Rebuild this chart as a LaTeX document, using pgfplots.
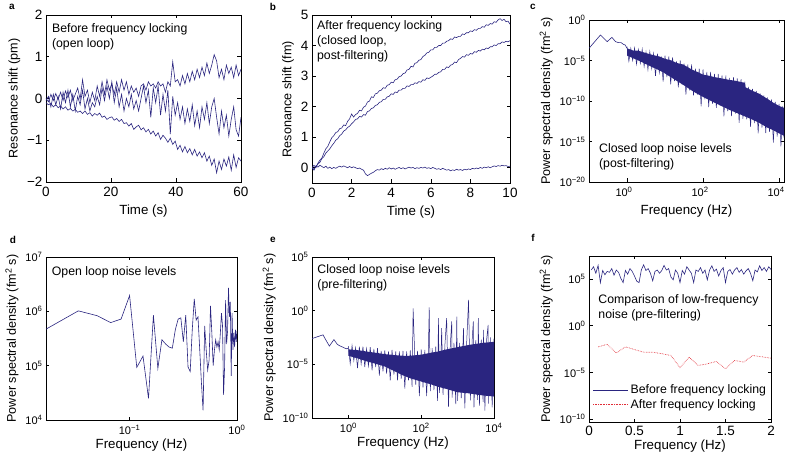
\documentclass[border=0pt]{standalone}
\usepackage{pgfplots}
\pgfplotsset{compat=1.18}
\usepackage{fontspec}
\setmainfont{Liberation Sans}
\newfontfamily\yfont{Liberation Sans}
\definecolor{nv}{RGB}{42,37,128}
\definecolor{rd}{RGB}{225,45,55}
\pgfplotsset{
 pnl/.style={scale only axis, anchor=south west, tick align=inside, major tick length=3.5pt,
  xminorticks=false, yminorticks=false,
  axis line style={line width=0.6pt},
  every tick/.style={line width=0.5pt, black},
  tick label style={font=\fontsize{13.5}{15}\selectfont},
  xticklabel style={yshift=-2pt},
  xlabel style={font=\fontsize{13.3}{14}\selectfont, yshift=-1pt},
  ylabel style={font=\yfont\fontsize{12.6}{14}\selectfont},
  every axis plot/.append style={line width=0.6pt},
 },
 bot/.style={xlabel style={yshift=4pt}},
 lgx/.style={xticklabel style={font=\fontsize{11}{12}\selectfont}},
 lgy/.style={yticklabel style={font=\fontsize{11}{12}\selectfont}},
}
\tikzset{ann/.style={anchor=north west, inner sep=0pt, align=left, font=\fontsize{12.3}{15}\selectfont},
 lett/.style={font=\bfseries\fontsize{10}{12}\selectfont}}
\begin{document}
\begin{tikzpicture}
\useasboundingbox (0,0) rectangle (785pt,455pt);
% ---------------- a ----------------
\begin{axis}[pnl, at={(46pt,273pt)}, width=195pt, height=167pt,
  xmin=0, xmax=60, ymin=-2, ymax=2,
  xtick={0,20,40,60}, xticklabels={0,20,40,60},
  ytick={-2,-1,0,1,2}, yticklabels={−2,−1,0,1,2},
  xlabel={Time (s)}, ylabel={Resonance shift (pm)}]
\addplot[nv] coordinates {(0,0.00)(0.75,-0.08)(1.5,0.10)(2.25,-0.05)(3,0.12)(3.75,-0.02)(4.5,0.15)(5.25,-0.05)(6,0.18)(6.75,0.02)(7.5,0.2)(8.25,-0.05)(9,0.1)(9.75,0.25)(10.5,-0.02)(11.25,0.45)(12,0.05)(12.75,0.2)(13.5,-0.1)(14.25,0.15)(15,-0.05)(15.75,0.3)(16.5,0.05)(17.25,0.4)(18,0.1)(18.75,0.45)(19.5,0.2)(20.25,0.35)(21,0.1)(21.75,0.4)(22.5,0.15)(23.25,0.45)(24,0.2)(24.75,0.4)(25.5,0.1)(26.25,0.3)(27,0.15)(27.75,0.25)(28.5,0.05)(29.25,0.3)(30,0.35)(30.75,0.2)(31.5,0.4)(32.25,0.3)(33,0.35)(33.75,0.25)(34.5,0.4)(35.25,0.3)(36,0.35)(36.75,0.15)(37.5,0.4)(38.25,0.3)(39,0.88)(39.75,0.4)(40.5,0.45)(41.25,0.3)(42,0.55)(42.75,0.35)(43.5,0.6)(44.25,0.4)(45,0.65)(45.75,0.45)(46.5,0.7)(47.25,0.5)(48,0.75)(48.75,0.55)(49.5,0.85)(50.25,0.6)(51,0.8)(51.75,1.05)(52.5,0.9)(53.25,0.5)(54,0.7)(54.75,0.45)(55.5,0.8)(56.25,0.6)(57,0.75)(57.75,0.5)(58.5,0.8)(59.25,0.55)(60,0.7)};
\addplot[nv] coordinates {(0,-0.05)(0.75,0.05)(1.5,-0.2)(2.25,0.1)(3,-0.15)(3.75,0.05)(4.5,-0.25)(5.25,0.15)(6,-0.1)(6.75,0.2)(7.5,-0.2)(8.25,0.1)(9,-0.3)(9.75,0.05)(10.5,-0.15)(11.25,0.2)(12,-0.25)(12.75,0.0)(13.5,-0.3)(14.25,-0.1)(15,-0.2)(15.75,0.05)(16.5,-0.15)(17.25,0.25)(18,-0.05)(18.75,0.3)(19.5,0.0)(20.25,0.4)(21,-0.1)(21.75,0.25)(22.5,-0.2)(23.25,0.1)(24,-0.3)(24.75,0.0)(25.5,-0.2)(26.25,0.1)(27,-0.25)(27.75,-0.05)(28.5,-0.3)(29.25,0.0)(30,0.3)(30.75,-0.1)(31.5,0.2)(32.25,-0.45)(33,0.25)(33.75,-0.1)(34.5,0.3)(35.25,-0.4)(36,0.1)(36.75,-0.3)(37.5,0.2)(38.25,-0.85)(39,0.05)(39.75,-0.4)(40.5,-0.1)(41.25,-0.5)(42,-0.2)(42.75,-0.6)(43.5,-0.25)(44.25,-0.55)(45,-0.15)(45.75,-0.65)(46.5,-0.3)(47.25,-0.7)(48,-0.2)(48.75,-0.5)(49.5,-0.1)(50.25,-0.6)(51,-0.2)(51.75,0.0)(52.5,-0.45)(53.25,-0.85)(54,-0.3)(54.75,-0.7)(55.5,-0.4)(56.25,-0.9)(57,-0.5)(57.75,-0.2)(58.5,-0.75)(59.25,-0.9)(60,-0.45)};
\addplot[nv] coordinates {(0,-0.10)(0.75,-0.15)(1.5,-0.12)(2.25,-0.2)(3,-0.15)(3.75,-0.22)(4.5,-0.18)(5.25,-0.25)(6,-0.2)(6.75,-0.28)(7.5,-0.24)(8.25,-0.3)(9,-0.26)(9.75,-0.33)(10.5,-0.3)(11.25,-0.36)(12,-0.3)(12.75,-0.38)(13.5,-0.34)(14.25,-0.42)(15,-0.36)(15.75,-0.4)(16.5,-0.35)(17.25,-0.45)(18,-0.42)(18.75,-0.5)(19.5,-0.46)(20.25,-0.44)(21,-0.52)(21.75,-0.48)(22.5,-0.55)(23.25,-0.5)(24,-0.6)(24.75,-0.58)(25.5,-0.66)(26.25,-0.6)(27,-0.74)(27.75,-0.68)(28.5,-0.64)(29.25,-0.75)(30,-0.7)(30.75,-0.8)(31.5,-0.74)(32.25,-0.85)(33,-0.78)(33.75,-0.9)(34.5,-0.82)(35.25,-0.98)(36,-0.88)(36.75,-0.95)(37.5,-1.05)(38.25,-0.95)(39,-1.1)(39.75,-1.02)(40.5,-1.22)(41.25,-1.12)(42,-1.28)(42.75,-1.15)(43.5,-1.3)(44.25,-1.2)(45,-1.35)(45.75,-1.22)(46.5,-1.38)(47.25,-1.28)(48,-1.42)(48.75,-1.3)(49.5,-1.5)(50.25,-1.38)(51,-1.6)(51.75,-1.45)(52.5,-1.78)(53.25,-1.5)(54,-1.7)(54.75,-1.45)(55.5,-1.62)(56.25,-1.4)(57,-1.72)(57.75,-1.35)(58.5,-1.65)(59.25,-1.42)(60,-1.5)};
\node[ann] at (rel axis cs:0.03,0.95) {Before frequency locking\\(open loop)};
\end{axis}
% ---------------- b ----------------
\begin{axis}[pnl, at={(312pt,272pt)}, width=198pt, height=168pt,
  xmin=0, xmax=10, ymin=-0.5, ymax=5,
  xtick={0,2,4,6,8,10}, xticklabels={0,2,4,6,8,10},
  ytick={0,1,2,3,4,5}, yticklabels={0,1,2,3,4,5},
  xlabel={Time (s)}, ylabel={Resonance shift (fm)}]
\addplot[nv] coordinates {(0,0.00)(0.1,0.08)(0.2,0.00)(0.3,0.15)(0.4,0.25)(0.5,0.32)(0.6,0.48)(0.7,0.62)(0.8,0.70)(0.9,0.85)(1.0,0.98)(1.1,1.05)(1.2,1.15)(1.3,1.18)(1.4,1.28)(1.5,1.30)(1.6,1.40)(1.7,1.38)(1.8,1.52)(1.9,1.60)(2.0,1.76)(2.1,1.66)(2.2,1.74)(2.3,1.78)(2.4,1.88)(2.5,1.86)(2.6,1.98)(2.7,2.02)(2.8,2.15)(2.9,2.18)(3.0,2.32)(3.1,2.30)(3.2,2.42)(3.3,2.44)(3.4,2.52)(3.5,2.54)(3.6,2.62)(3.7,2.60)(3.8,2.70)(3.9,2.72)(4.0,2.80)(4.1,2.78)(4.2,2.88)(4.3,2.90)(4.4,2.98)(4.5,3.00)(4.6,3.08)(4.7,3.10)(4.8,3.20)(4.9,3.22)(5.0,3.32)(5.1,3.30)(5.2,3.42)(5.3,3.44)(5.4,3.52)(5.5,3.54)(5.6,3.64)(5.7,3.68)(5.8,3.76)(5.9,3.78)(6.0,3.86)(6.1,3.86)(6.2,3.94)(6.3,3.94)(6.4,4.00)(6.5,4.00)(6.6,4.08)(6.7,4.08)(6.8,4.14)(6.9,4.16)(7.0,4.22)(7.1,4.20)(7.2,4.28)(7.3,4.26)(7.4,4.30)(7.5,4.30)(7.6,4.38)(7.7,4.36)(7.8,4.42)(7.9,4.42)(8.0,4.48)(8.1,4.46)(8.2,4.52)(8.3,4.50)(8.4,4.56)(8.5,4.56)(8.6,4.62)(8.7,4.60)(8.8,4.68)(8.9,4.66)(9.0,4.72)(9.1,4.70)(9.2,4.78)(9.3,4.76)(9.4,4.84)(9.5,4.88)(9.6,4.82)(9.7,4.86)(9.8,4.78)(9.9,4.80)(10.0,4.70)};
\addplot[nv] coordinates {(0,0.00)(0.1,-0.05)(0.2,0.05)(0.3,0.12)(0.4,0.18)(0.5,0.30)(0.6,0.36)(0.7,0.48)(0.8,0.55)(0.9,0.62)(1.0,0.72)(1.1,0.80)(1.2,0.90)(1.3,0.95)(1.4,1.05)(1.5,1.10)(1.6,1.20)(1.7,1.24)(1.8,1.32)(1.9,1.36)(2.0,1.44)(2.1,1.50)(2.2,1.58)(2.3,1.60)(2.4,1.68)(2.5,1.66)(2.6,1.74)(2.7,1.72)(2.8,1.84)(2.9,1.86)(3.0,1.94)(3.1,1.96)(3.2,2.04)(3.3,2.06)(3.4,2.14)(3.5,2.16)(3.6,2.24)(3.7,2.24)(3.8,2.32)(3.9,2.34)(4.0,2.42)(4.1,2.40)(4.2,2.48)(4.3,2.46)(4.4,2.54)(4.5,2.54)(4.6,2.60)(4.7,2.60)(4.8,2.68)(4.9,2.66)(5.0,2.72)(5.1,2.72)(5.2,2.78)(5.3,2.76)(5.4,2.82)(5.5,2.80)(5.6,2.88)(5.7,2.86)(5.8,2.94)(5.9,2.92)(6.0,2.96)(6.1,3.00)(6.2,3.06)(6.3,3.06)(6.4,3.12)(6.5,3.14)(6.6,3.22)(6.7,3.22)(6.8,3.30)(6.9,3.28)(7.0,3.36)(7.1,3.38)(7.2,3.46)(7.3,3.44)(7.4,3.54)(7.5,3.58)(7.6,3.64)(7.7,3.62)(7.8,3.70)(7.9,3.68)(8.0,3.74)(8.1,3.72)(8.2,3.80)(8.3,3.78)(8.4,3.84)(8.5,3.82)(8.6,3.88)(8.7,3.86)(8.8,3.92)(8.9,3.90)(9.0,3.96)(9.1,3.96)(9.2,4.02)(9.3,4.00)(9.4,4.06)(9.5,4.06)(9.6,4.12)(9.7,4.10)(9.8,4.14)(9.9,4.12)(10.0,4.16)};
\addplot[nv] coordinates {(0,0.00)(0.1,-0.08)(0.2,0.06)(0.3,0.02)(0.4,0.08)(0.5,0.04)(0.6,0.00)(0.7,0.05)(0.8,-0.02)(0.9,0.02)(1.0,-0.03)(1.1,0.01)(1.2,-0.02)(1.3,0.02)(1.4,0.05)(1.5,0.02)(1.6,0.06)(1.7,0.03)(1.8,0.00)(1.9,0.04)(2.0,0.00)(2.1,0.03)(2.2,0.00)(2.3,-0.03)(2.4,-0.01)(2.5,-0.05)(2.6,-0.08)(2.7,-0.20)(2.8,-0.26)(2.9,-0.22)(3.0,-0.18)(3.1,-0.15)(3.2,-0.10)(3.3,-0.06)(3.4,-0.08)(3.5,-0.03)(3.6,-0.06)(3.7,-0.02)(3.8,-0.05)(3.9,0.00)(4.0,-0.04)(4.1,-0.01)(4.2,-0.05)(4.3,-0.02)(4.4,0.01)(4.5,-0.03)(4.6,0.00)(4.7,-0.04)(4.8,-0.01)(4.9,0.02)(5.0,-0.01)(5.1,0.01)(5.2,-0.03)(5.3,0.00)(5.4,-0.02)(5.5,0.01)(5.6,-0.01)(5.7,0.02)(5.8,-0.02)(5.9,0.00)(6.0,-0.03)(6.1,0.01)(6.2,-0.02)(6.3,-0.05)(6.4,-0.03)(6.5,-0.06)(6.6,-0.02)(6.7,-0.05)(6.8,-0.08)(6.9,-0.06)(7.0,-0.10)(7.1,-0.07)(7.2,-0.09)(7.3,-0.05)(7.4,-0.08)(7.5,-0.06)(7.6,-0.09)(7.7,-0.05)(7.8,-0.07)(7.9,-0.04)(8.0,-0.06)(8.1,-0.02)(8.2,-0.04)(8.3,-0.01)(8.4,-0.03)(8.5,0.01)(8.6,-0.02)(8.7,0.02)(8.8,0.00)(8.9,0.03)(9.0,0.00)(9.1,0.03)(9.2,0.06)(9.3,0.04)(9.4,0.07)(9.5,0.05)(9.6,0.08)(9.7,0.06)(9.8,0.07)(9.9,0.04)(10.0,0.05)};
\node[ann] at (rel axis cs:0.025,0.965) {After frequency locking\\(closed loop,\\post-filtering)};
\end{axis}
% ---------------- c ----------------
\begin{axis}[pnl, lgx, lgy, at={(589pt,273pt)}, width=195pt, height=162pt,
  xmode=log, ymode=log, xmin=0.1, xmax=13500, ymin=1e-20, ymax=1,
  xticklabel style={xshift=-3pt},
  xtick={1,100,10000}, xticklabels={10\textsuperscript{0},10\textsuperscript{2},10\textsuperscript{4}},
  ytick={1e-20,1e-15,1e-10,1e-5,1}, yticklabels={10\textsuperscript{−20},10\textsuperscript{−15},10\textsuperscript{−10},10\textsuperscript{−5},10\textsuperscript{0}},
  xlabel={Frequency (Hz)}, ylabel={Power spectral density (fm\textsuperscript{2} s)}]
\addplot[nv] coordinates {(0.1,3.2e-4)(0.2,1.4e-2)(0.3,2.1e-3)(0.4,7.2e-3)(0.5,2.1e-3)(0.6,1.6e-3)(0.7,1.6e-3)(0.8,1e-3)(0.9,8e-4)(1.0,3.2e-4)};
\addplot[draw=none, fill=nv] coordinates {(1,3.2e-4)(1.5,1.6e-4)(2,1.6e-4)(3,8.9e-5)(5,4.5e-5)(7,3.2e-5)(10,1.6e-5)(15,1e-5)(20,5e-6)(30,3.2e-6)(50,7.9e-7)(70,4e-7)(100,1.8e-7)(150,1.26e-7)(200,8.9e-8)(300,6.3e-8)(500,4e-8)(700,3.2e-8)(1000,2.2e-8)(1250,1.8e-8)(1300,5e-9)(2000,1.8e-9)(3000,7.9e-10)(5000,1.8e-10)(7000,6.3e-11)(10000,2.5e-11)(13500,1.4e-11)
 (13500,5e-15)(10000,1e-14)(7000,2.5e-14)(5000,5e-14)(3000,2e-13)(2000,5e-13)(1000,2e-12)(700,4e-12)(500,7.9e-12)(300,2.5e-11)(200,6.3e-11)(100,3.2e-10)(70,7.9e-10)(50,2e-9)(30,1e-8)(20,3.2e-8)(10,2.5e-7)(7,6.3e-7)(5,1.26e-6)(3,4e-6)(2,1e-5)(1,4e-5)};
\addplot[nv, line width=0.5pt] coordinates {(1,5e-4)(1.12,7.9e-6)(1.26,3.2e-4)(1.41,1e-5)(1.58,3.5e-4)(1.78,3.5e-6)(2,2.2e-4)(2.24,4.5e-6)(2.51,2.5e-4)(2.82,1.8e-6)(3.16,1.1e-4)(3.55,7.1e-7)(3.98,1.26e-4)(4.47,1e-6)(5.01,7.1e-5)(5.62,1.26e-7)(6.31,7.1e-5)(7.08,3.2e-7)(7.94,3.2e-5)(8.91,2.5e-8)
 (10,4e-5)(11.2,8.9e-8)(12.6,3.2e-5)(14.1,1.12e-8)(15.8,2.5e-5)(17.8,2.8e-8)(20,7.9e-6)(22.4,5e-9)(25.1,1e-5)(28.2,1e-8)(31.6,4e-6)(35.5,6.3e-10)(39.8,3.2e-6)(44.7,2e-9)(50.1,3.2e-6)(56.2,5e-10)(63.1,1e-6)(70.8,6.3e-10)(79.4,1e-6)(89.1,2.2e-11)
 (100,7.9e-7)(112,1.6e-10)(126,4e-7)(141,1.8e-11)(158,4e-7)(178,4.5e-11)(200,2.2e-7)(224,1.4e-11)(251,2.2e-7)(282,2.5e-11)(316,1.4e-7)(355,1.26e-12)(398,1.4e-7)(447,5.6e-12)(501,7.1e-8)(562,1.4e-12)(631,8.9e-8)(708,2.8e-12)(794,6.3e-8)(891,2e-13)
 (1000,5e-8)(1120,6.3e-13)(1260,2.5e-8)(1410,5.6e-13)(1580,5.6e-9)(1780,6.3e-14)(2000,3.2e-9)(2240,1.8e-13)(2510,1.8e-9)(2820,1e-14)(3160,8.9e-10)(3550,5e-14)(3980,5e-10)(4470,1.12e-14)(5010,2.8e-10)(5620,1.6e-14)(6310,1.6e-10)(7080,7.1e-16)(7940,7.9e-11)(8910,4e-15)(10000,4.5e-11)(11200,2.5e-16)(12500,2.2e-11)(13500,3e-15)};
\node[ann] at (rel axis cs:0.051,0.24) {Closed loop noise levels\\(post-filtering)};
\end{axis}
% ---------------- d ----------------
\begin{axis}[pnl, bot, lgx, lgy, at={(46pt,35pt)}, width=191pt, height=163pt,
  xmode=log, ymode=log, xmin=0.016667, xmax=1, ymin=1e4, ymax=1e7,
  xtick={0.1,1}, xticklabels={10\textsuperscript{−1},10\textsuperscript{0}},
  ytick={1e4,1e5,1e6,1e7}, yticklabels={10\textsuperscript{4},10\textsuperscript{5},10\textsuperscript{6},10\textsuperscript{7}},
  xlabel={Frequency (Hz)}, ylabel={Power spectral density (fm\textsuperscript{2} s)}]
\addplot[nv] coordinates {(0.016667,4.7e5)(0.033333,1.02e6)(0.05,8.3e5)(0.066667,6.2e5)(0.083333,7.2e5)(0.1,1.95e6)(0.116667,9.3e4)(0.133333,1.5e5)(0.15,2.5e4)(0.166667,8.5e5)(0.183333,8.9e4)(0.2,3.0e5)(0.216667,2.5e5)(0.233333,2.2e5)(0.25,2.1e5)(0.266667,4.6e5)(0.283333,7.2e5)(0.3,7.6e5)(0.316667,2.75e5)(0.333333,8.5e5)(0.35,9.5e4)(0.366667,7.8e4)(0.383333,4.6e5)(0.4,1.7e6)(0.416667,6.9e5)(0.433333,7.9e5)(0.45,1.95e5)(0.466667,4.8e4)(0.483333,1.5e4)(0.5,5.4e5)(0.516667,1.95e5)(0.533333,8.3e4)(0.55,1.26e5)(0.566667,1.26e6)(0.583333,4e5)(0.6,1.0e5)(0.616667,1.95e5)(0.633333,3.0e5)(0.65,2.2e5)(0.666667,2.75e5)(0.683333,1.95e5)(0.7,4e5)(0.716667,9.3e5)(0.733333,5.4e5)(0.75,2.9e4)(0.766667,9.5e4)(0.783333,1.6e6)(0.8,2.5e5)(0.816667,4.3e5)(0.833333,2.7e6)(0.85,7.9e5)(0.866667,1.5e6)(0.883333,6.5e4)(0.9,9.3e5)(0.916667,1.95e5)(0.933333,4e5)(0.95,2.2e5)(0.966667,4.6e5)(0.983333,2.75e5)(1.0,4.3e5)};
\node[ann] at (rel axis cs:0.03,0.945) {Open loop noise levels};
\end{axis}
% ---------------- e ----------------
\begin{axis}[pnl, bot, lgx, lgy, at={(312pt,37pt)}, width=182pt, height=161pt,
  xmode=log, ymode=log, xmin=0.1, xmax=10000, ymin=1e-10, ymax=1e5,
  xtick={1,100,10000}, xticklabels={10\textsuperscript{0},10\textsuperscript{2},10\textsuperscript{4}},
  ytick={1e-10,1e-5,1,1e5}, yticklabels={10\textsuperscript{−10},10\textsuperscript{−5},10\textsuperscript{0},10\textsuperscript{5}},
  xlabel={Frequency (Hz)}, ylabel={Power spectral density (fm\textsuperscript{2} s)}]
\addplot[nv] coordinates {(0.1,2.5e-3)(0.2,5.6e-3)(0.3,5e-4)(0.4,2e-3)(0.5,7.1e-4)(0.6,5e-4)(0.7,4e-4)(0.8,3.2e-4)(0.9,2.8e-4)(1.0,3.2e-4)};
\addplot[draw=none, fill=nv] coordinates {(1,2.5e-4)(2,2e-4)(3,1.6e-4)(5,1.26e-4)(10,8.9e-5)(20,7.1e-5)(30,6.3e-5)(50,6.3e-5)(100,7.9e-5)(200,1.26e-4)(300,1.6e-4)(500,2.5e-4)(1000,4e-4)(2000,6.3e-4)(3000,7.9e-4)(5000,1e-3)(10000,1.26e-3)
 (10000,1e-8)(5000,1.26e-8)(3000,1.6e-8)(2000,2e-8)(1000,2.5e-8)(500,5e-8)(300,7.9e-8)(200,1.26e-7)(100,2.5e-7)(50,5e-7)(30,1e-6)(20,2e-6)(10,6.3e-6)(5,1.26e-5)(3,2e-5)(2,3.2e-5)(1,6.3e-5)};
\addplot[nv, line width=0.5pt] coordinates {(1,5e-4)(1.12,1.12e-5)(1.26,5.6e-4)(1.41,2.2e-5)(1.58,3.5e-4)(1.78,4.5e-6)(2,4.5e-4)(2.24,1.12e-5)(2.51,4.5e-4)(2.82,5.6e-6)(3.16,2.8e-4)(3.55,7.1e-6)(3.98,4e-4)(4.47,2.8e-6)(5.01,2.8e-4)(5.62,5.6e-6)(6.31,3.2e-4)(7.08,8.9e-7)(7.94,1.8e-4)(8.91,2.2e-6)
 (10,2e-4)(11.2,1.4e-6)(12.6,1.6e-4)(14.1,3.2e-7)(15.8,2.2e-4)(17.8,1.12e-6)(20,1.6e-4)(22.4,3.2e-7)(25.1,1.6e-4)(28.2,4.5e-7)(31.6,1.8e-4)(35.5,5.6e-8)(39.8,1.6e-4)(44.7,3.2e-7)(50.1,2e-4)(56.2,7.9e-8)(60,1.66)(70.8,1.26e-7)(79.4,1.8e-4)(89.1,1.12e-8)
 (100,2.5e-4)(112,7.1e-8)(126,2.2e-4)(141,1.12e-8)(158,2.8e-4)(166,2.0)(178,3.2e-8)(200,3.2e-4)(224,4e-8)(251,4.5e-4)(282,4e-9)(297,2e-1)(316,2.2e-8)(355,5e-4)(365,2.3e-2)(398,1.4e-8)(447,5.6e-4)(500,2e-1)(562,1.12e-9)(631,7.1e-4)(690,1e-1)(708,7.9e-9)(794,1e-3)(891,2e-9)(950,2.8e-1)
 (1000,4e-9)(1120,1e-3)(1260,7.1e-9)(1410,1.12e-3)(1450,2.3e-2)(1580,7.9e-10)(1780,1.26e-3)(2000,10)(2240,4.5e-9)(2510,1.8e-3)(2700,1e-1)(2820,1e-9)(3160,1.8e-3)(3550,5e-9)(3700,2e-1)(3980,1.4e-9)(4470,2e-3)(5010,3.2e-9)(5100,1.6e-2)(5620,5e-10)(6310,2.5e-3)(6900,4.7e-2)(7080,2.2e-9)(7940,3.2e-3)(8910,1e-9)(10000,2.5e-3)};
\node[ann] at (rel axis cs:0.029,0.955) {Closed loop noise levels\\(pre-filtering)};
\end{axis}
% ---------------- f ----------------
\begin{axis}[pnl, bot, lgy, at={(589pt,33pt)}, width=182pt, height=166pt,
  xmin=0, xmax=2, ymode=log, ymin=5e-11, ymax=2.8e7,
  xtick={0,0.5,1,1.5,2}, xticklabels={0,0.5,1,1.5,2},
  xticklabel style={yshift=1pt},
  ytick={1e-10,1e-5,1,1e5}, yticklabels={10\textsuperscript{−10},10\textsuperscript{−5},10\textsuperscript{0},10\textsuperscript{5}},
  xlabel={Frequency (Hz)}, ylabel={Power spectral density (fm\textsuperscript{2} s)},
  legend cell align=left,
  legend image code/.code={\draw[#1] (0pt,0pt) -- (35pt,0pt);},
  legend style={draw=none, fill=none, at={(0.015,0.055)}, anchor=south west, font=\fontsize{12.3}{15}\selectfont, row sep=0pt, inner sep=1pt}]
\addplot[nv] coordinates {(0.025,8.9e5)(0.05,2e6)(0.075,4e5)(0.1,2.8e6)(0.125,4e4)(0.15,7.9e5)(0.175,2.8e5)(0.2,6.3e5)(0.225,5e5)(0.25,1.26e6)(0.275,2.5e5)(0.3,8.9e5)(0.325,5e5)(0.35,1.12e5)(0.375,4e4)(0.4,7.9e5)(0.425,3.2e5)(0.45,1.26e6)(0.475,6.3e5)(0.5,2e5)(0.525,5.6e4)(0.55,4e4)(0.575,8.9e5)(0.6,3.2e6)(0.625,7.9e5)(0.65,1.26e6)(0.675,4e5)(0.7,6.3e4)(0.725,6.3e5)(0.75,8.9e5)(0.775,4e5)(0.8,7.9e5)(0.825,2.8e6)(0.85,8.9e5)(0.875,1.26e6)(0.9,1.6e5)(0.925,7.9e4)(0.95,8.9e5)(0.975,4e5)(1.0,4e4)(1.025,7.9e5)(1.05,3.2e5)(1.075,2e6)(1.1,8.9e5)(1.125,4e5)(1.15,4e4)(1.175,8.9e5)(1.2,6.3e5)(1.225,1.6e6)(1.25,4e5)(1.275,8.9e5)(1.3,7.9e4)(1.325,8.9e5)(1.35,2.5e6)(1.375,6.3e5)(1.4,1.12e6)(1.425,2e5)(1.45,7.9e5)(1.475,1.6e6)(1.5,4e4)(1.525,6.3e5)(1.55,1e6)(1.575,3.2e5)(1.6,8.9e5)(1.625,1.6e6)(1.65,5e5)(1.675,1e6)(1.7,3.2e5)(1.725,7.1e5)(1.75,1.26e6)(1.775,4e5)(1.8,6.3e4)(1.825,8.9e5)(1.85,5.6e5)(1.875,2.5e6)(1.9,7.9e5)(1.925,1.6e6)(1.95,6.3e5)(1.975,2e6)(2.0,1e6)};
\addlegendentry{Before frequency locking}
\addplot[rd, densely dotted, line width=0.7pt] coordinates {(0.1,5.4e-3)(0.2,1e-2)(0.3,1.2e-3)(0.4,5.4e-3)(0.5,2.8e-3)(0.6,1.45e-3)(0.7,1.45e-3)(0.8,1e-3)(0.9,6.5e-4)(1.0,3.2e-5)(1.1,4.3e-4)(1.2,5.5e-5)(1.3,8.3e-5)(1.4,1.5e-4)(1.5,2.5e-5)(1.6,1.9e-4)(1.7,1.26e-4)(1.8,6.5e-4)(1.9,4.7e-4)(2.0,3.3e-4)};
\addlegendentry{After frequency locking}
\node[ann] at (rel axis cs:0.051,0.77) {Comparison of low-frequency\\noise (pre-filtering)};
\end{axis}
\node[lett] at (12pt,448pt) {a};
\node[lett] at (273pt,448pt) {b};
\node[lett] at (533pt,448pt) {c};
\node[lett] at (13pt,215pt) {d};
\node[lett] at (273pt,215pt) {e};
\node[lett] at (533pt,217pt) {f};
\end{tikzpicture}
\end{document}
